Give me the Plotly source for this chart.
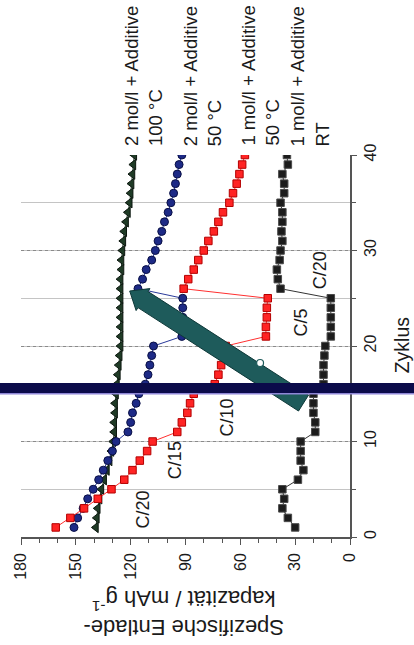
import math
import plotly.graph_objects as go

# ---------------- data ----------------
cycles = list(range(1, 41))

cap_2M_100C = [139, 138.5, 138, 137, 136, 134.5, 133, 131.5, 130.5, 129.5,
               129, 129, 128.5, 128.5, 128, 127.5, 127, 126.5, 126, 125.5,
               125.5, 125.5, 125.5, 125.5, 125.5, 125.5, 125.5, 125, 125, 124.5,
               124, 123.5, 122.5, 121.5, 120.5, 120, 119.5, 119, 118.5, 118]

cap_2M_50C = [151, 149, 146, 143.5, 140.5, 137.5, 135, 132.5, 130, 128,
              121.5, 120, 119, 117, 115.5, 112, 110.5, 109.5, 108.5, 107.5,
              92, 92, 91.5, 91.5, 91.5, 116, 113.5, 111.5, 108.5, 106.5,
              105, 103, 101.5, 99.5, 98, 96.5, 95.5, 94.5, 93.5, 92]

cap_1M_50C = [161, 153, 145.5, 138, 130.5, 123.5, 119, 115, 111, 108,
              94.5, 92, 89, 87.5, 85.5, 74, 72, 70.5, 69, 68,
              46, 46, 45.5, 45.5, 45, 91, 88.5, 85.5, 83, 80,
              77.5, 74.5, 72, 69.5, 66, 64, 62, 60.5, 59, 57.5]

cap_1M_RT = [30, 34, 37, 36, 37, 28.5, 25.5, 27, 27, 27,
             19, 19, 20, 20, 20, 14.5, 14.5, 14.5, 14, 13.5,
             10.5, 10.5, 10.5, 10.5, 10.5, 38, 39.5, 40, 38.5, 38,
             37, 37.5, 37, 37, 38, 36, 36, 37, 34, 34.5]

series_line1 = ["2 mol/l + Additive", "2 mol/l + Additive",
                "1 mol/l + Additive", "1 mol/l + Additive"]
series_line2 = ["100 °C", "50 °C", "50 °C", "RT"]

rate_labels = ["C/20", "C/15", "C/10", "C/5", "C/20"]

cap_ticks = [0, 30, 60, 90, 120, 150, 180]
cycle_ticks = [0, 10, 20, 30, 40]

# ---------------- layout geometry ----------------
W, H = 414, 645
ML, MR, MT, MB = 17, 64, 155, 108
PW, PH = W - ML - MR, H - MT - MB
CAP_MAX, CYC_MAX = 180, 40


def to_data(xp, yp):
    """pixel position -> (capacity, cycle) data position"""
    return CAP_MAX * (1 - (xp - ML) / PW), CYC_MAX * (H - MB - yp) / PH


def to_paper(xp, yp):
    return (xp - ML) / PW, (H - MB - yp) / PH


FONT = "Liberation Sans, Arial, sans-serif"
TXT = "#1a1a1a"

fig = go.Figure()

styles = [
    (cap_2M_100C, "triangle-left", "#1f3b26", "#0b160e", "#1f3b26", 9),
    (cap_2M_50C, "circle", "#1d2a86", "#0a1045", "#2a3a9a", 8),
    (cap_1M_50C, "square", "#ff2424", "#b40000", "#ff3030", 7.5),
    (cap_1M_RT, "square", "#1c1c1c", "#4a4a4a", "#333333", 7.5),
]
for vals, sym, fill, edge, lcol, size in styles:
    fig.add_trace(go.Scatter(
        x=vals, y=cycles, mode="lines+markers",
        line=dict(color=lcol, width=1),
        marker=dict(symbol=sym, color=fill, size=size,
                    line=dict(color=edge, width=1)),
        showlegend=False, hoverinfo="skip"))

# ---------------- teal arrow (decoration) ----------------
tail = (303, 403)
tip = (127, 291)
dx, dy = tip[0] - tail[0], tip[1] - tail[1]
ln = math.hypot(dx, dy)
ux, uy = dx / ln, dy / ln
nx, ny = -uy, ux
hw, hhw, hl = 9.5, 13, 16
base = (tip[0] - ux * hl, tip[1] - uy * hl)
pts_px = [
    (tail[0] + nx * hw, tail[1] + ny * hw),
    (base[0] + nx * hw, base[1] + ny * hw),
    (base[0] + nx * hhw, base[1] + ny * hhw),
    tip,
    (base[0] - nx * hhw, base[1] - ny * hhw),
    (base[0] - nx * hw, base[1] - ny * hw),
    (tail[0] - nx * hw, tail[1] - ny * hw),
]
pts = [to_data(*p) for p in pts_px]
path = "M " + " L ".join(f"{x:.3f},{y:.3f}" for x, y in pts) + " Z"
fig.add_shape(type="path", path=path, xref="x", yref="y",
              fillcolor="#1e5b5b", line=dict(color="#0e3838", width=1),
              layer="above")

# small open circle on the arrow
cx0, cy0 = to_data(255.5, 359.5)
cx1, cy1 = to_data(262.5, 366.5)
fig.add_shape(type="circle", xref="x", yref="y", x0=cx0, y0=cy0, x1=cx1, y1=cy1,
              fillcolor="white", line=dict(color="#1e5b5b", width=1.2),
              layer="above")

# ---------------- navy horizontal bar ----------------
_, cyc_bar = to_data(0, 388)
_, cyc_bar2 = to_data(0, 393.5)
fig.add_shape(type="line", xref="paper", yref="y", x0=-0.2, x1=1.3,
              y0=cyc_bar2, y1=cyc_bar2, line=dict(color="#8e86d6", width=2),
              layer="above")
fig.add_shape(type="line", xref="paper", yref="y", x0=-0.2, x1=1.3,
              y0=cyc_bar, y1=cyc_bar, line=dict(color="#0b0b4a", width=10),
              layer="above")

# ---------------- annotations ----------------
label_centers_px = [140.5, 200.5, 258.5, 309]
for l1, l2, xc in zip(series_line1, series_line2, label_centers_px):
    xpap, _ = to_paper(xc, 0)
    fig.add_annotation(text=f"{l1}<br>{l2}", xref="paper", yref="paper",
                       x=xpap, y=1 + 7 / PH, xanchor="center", yanchor="bottom",
                       textangle=-90, align="left", showarrow=False,
                       font=dict(family=FONT, size=18.5, color=TXT))

rate_pos_px = [(140, 510), (173, 460), (225, 418), (300, 323), (320, 270)]
for t, (xp, yp) in zip(rate_labels, rate_pos_px):
    xd, yd = to_data(xp, yp)
    fig.add_annotation(text=t, x=xd, y=yd, xref="x", yref="y",
                       xanchor="center", yanchor="middle",
                       textangle=-90, showarrow=False,
                       font=dict(family=FONT, size=18, color=TXT))

zx, zy = to_paper(403, 345)
fig.add_annotation(text="Zyklus", xref="paper", yref="paper", x=zx, y=zy,
                   xanchor="center", yanchor="middle",
                   textangle=-90, showarrow=False,
                   font=dict(family=FONT, size=19.5, color=TXT))
tx, ty = to_paper(182, 613)
fig.add_annotation(text="Spezifische Entlade-<br>kapazität / mAh g<sup>-1</sup>",
                   xref="paper", yref="paper", x=tx, y=ty,
                   xanchor="center", yanchor="middle",
                   textangle=180, showarrow=False, align="center",
                   font=dict(family=FONT, size=22, color=TXT))

fig.update_layout(
    width=W, height=H,
    margin=dict(l=ML, r=MR, t=MT, b=MB, pad=0),
    paper_bgcolor="white", plot_bgcolor="white",
    xaxis=dict(range=[CAP_MAX, 0], tickvals=cap_ticks, tickangle=-90,
               ticks="outside", ticklen=6, tickcolor="#555",
               minor=dict(dtick=10, ticks="outside", ticklen=4, tickcolor="#555"),
               showline=True, linecolor="#555", linewidth=1.5,
               showgrid=False, zeroline=False, ticklabelstandoff=2,
               tickfont=dict(family=FONT, size=16, color=TXT)),
    yaxis=dict(range=[0, CYC_MAX], tickvals=cycle_ticks, side="right",
               tickangle=-90, ticks="outside", ticklen=5, tickcolor="#555",
               showline=True, linecolor="#555", linewidth=1.5,
               showgrid=True, gridcolor="#8a8a8a", griddash="dot", gridwidth=1,
               minor=dict(dtick=5, ticks="outside", ticklen=4, tickcolor="#555",
                          showgrid=True, gridcolor="#c4c4c4", griddash="solid",
                          gridwidth=1),
               zeroline=False, ticklabelstandoff=0,
               tickfont=dict(family=FONT, size=16, color=TXT)),
)

fig.write_html("out.html",
               config={"displayModeBar": False},
               post_script="document.body.style.margin='0';"
                           "document.body.style.overflow='hidden';")
